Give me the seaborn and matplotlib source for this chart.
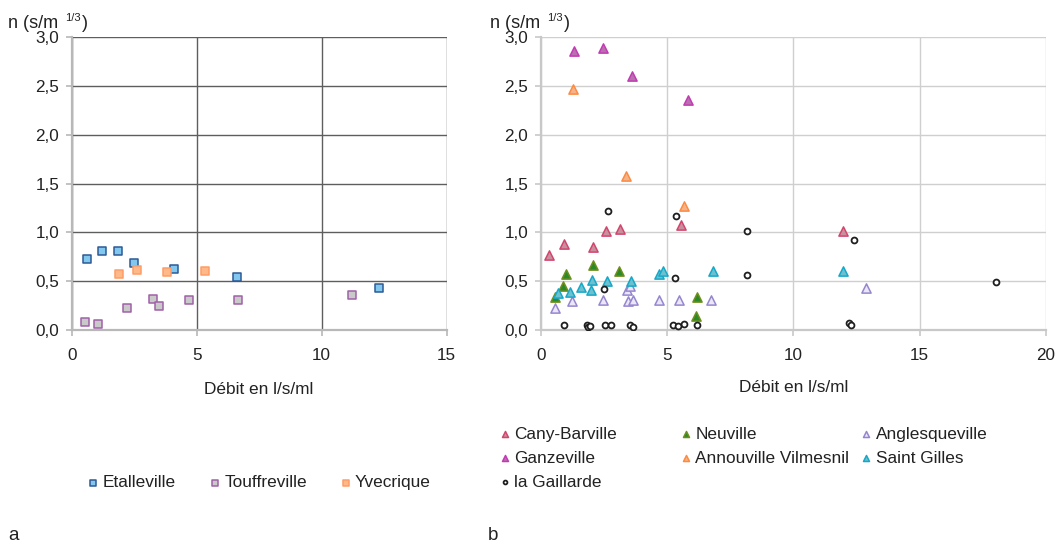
import matplotlib
matplotlib.use("Agg")
import matplotlib.pyplot as plt
import seaborn as sns

# ---------------- data ----------------
# panel a
etal_x = [0.6, 1.22, 1.85, 2.48, 4.09, 6.62, 12.29]
etal_y = [0.73, 0.81, 0.81, 0.69, 0.62, 0.54, 0.43]
touf_x = [0.52, 1.04, 2.2, 3.25, 3.49, 4.7, 6.64, 11.2]
touf_y = [0.085, 0.064, 0.23, 0.32, 0.25, 0.31, 0.31, 0.36]
yvec_x = [1.89, 2.6, 3.8, 5.33]
yvec_y = [0.57, 0.61, 0.59, 0.60]

# panel b
cany_x = [0.33, 0.91, 2.08, 2.59, 3.13, 5.56, 11.96]
cany_y = [0.77, 0.88, 0.85, 1.01, 1.03, 1.08, 1.01]
ganz_x = [1.30, 2.47, 3.62, 5.83]
ganz_y = [2.86, 2.89, 2.60, 2.35]
gaill_x = [0.93, 1.82, 1.88, 1.95, 2.50, 2.54, 2.65, 2.80, 3.55, 3.66, 5.24,
           5.32, 5.36, 5.45, 5.66, 6.17, 8.18, 8.18, 12.19, 12.28, 12.42, 18.04]
gaill_y = [0.05, 0.05, 0.035, 0.04, 0.42, 0.05, 1.22, 0.05, 0.05, 0.035, 0.05,
           0.53, 1.17, 0.04, 0.06, 0.05, 1.01, 0.56, 0.075, 0.05, 0.92, 0.49]
neuv_x = [0.58, 0.87, 1.01, 2.07, 3.11, 6.13, 6.17]
neuv_y = [0.34, 0.45, 0.57, 0.67, 0.60, 0.14, 0.34]
annou_x = [1.26, 3.38, 5.68]
annou_y = [2.47, 1.58, 1.27]
angl_x = [0.57, 1.25, 2.47, 3.40, 3.46, 3.52, 3.66, 4.69, 5.49, 6.76, 12.86]
angl_y = [0.23, 0.30, 0.31, 0.41, 0.30, 0.45, 0.31, 0.31, 0.31, 0.31, 0.43]
stg_x = [0.67, 1.16, 1.60, 1.98, 2.02, 2.61, 3.57, 4.69, 4.86, 6.80, 11.98]
stg_y = [0.38, 0.39, 0.44, 0.41, 0.51, 0.50, 0.50, 0.57, 0.60, 0.60, 0.60]

y_ticks = [0.0, 0.5, 1.0, 1.5, 2.0, 2.5, 3.0]
y_ticklabels = ["0,0", "0,5", "1,0", "1,5", "2,0", "2,5", "3,0"]
xa_ticks = [0, 5, 10, 15]
xb_ticks = [0, 5, 10, 15, 20]
x_label = "Débit en l/s/ml"

# ---------------- style ----------------
sns.set_style("white")
plt.rcParams["font.family"] = ["Liberation Sans", "DejaVu Sans"]
TXT = "#222222"

W, H = 1060, 547
fig = plt.figure(figsize=(W / 100, H / 100), dpi=100)


def px(x0, y0, x1, y1):
    return [x0 / W, 1 - y1 / H, (x1 - x0) / W, (y1 - y0) / H]


ax1 = fig.add_axes(px(71.7, 37, 446.7, 330))
ax2 = fig.add_axes(px(540.7, 37, 1046, 330))


def style_axis(ax, xticks, xmax, gridcolor, spinecolor):
    ax.set_xlim(0, xmax)
    ax.set_ylim(0, 3)
    ax.set_xticks(xticks)
    ax.set_xticklabels([str(t) for t in xticks])
    ax.set_yticks(y_ticks)
    ax.set_yticklabels(y_ticklabels)
    ax.grid(True, color=gridcolor, linewidth=1.0, zorder=0)
    ax.set_axisbelow(True)
    for s in ["top", "right"]:
        ax.spines[s].set_visible(False)
    for s in ["left", "bottom"]:
        ax.spines[s].set_color(spinecolor)
        ax.spines[s].set_linewidth(1.6)
    ax.tick_params(axis="both", direction="out", length=4, width=1.2,
                   color=spinecolor, labelsize=12.3, labelcolor=TXT,
                   left=True, bottom=True)
    ax.tick_params(axis="x", pad=9)
    ax.tick_params(axis="y", pad=5)
    ax.set_xlabel("")
    ax.set_ylabel("")


style_axis(ax1, xa_ticks, 15, "#5e5e5e", "#b8b8b8")
style_axis(ax2, xb_ticks, 20, "#cfcfcf", "#c8c8c8")

# ---------------- panel a ----------------
sq = dict(marker="s", s=36, linewidth=1.1, ax=ax1, zorder=3)
sns.scatterplot(x=etal_x, y=etal_y, color="#82c8ee", edgecolor="#2c5a96", label="Etalleville", **sq)
sns.scatterplot(x=touf_x, y=touf_y, color="#c9c9c9", edgecolor="#a060a8", label="Touffreville", **sq)
sns.scatterplot(x=yvec_x, y=yvec_y, color="#ffb888", edgecolor="#ff9c66", label="Yvecrique", **sq)
h1, l1 = ax1.get_legend_handles_labels()
if ax1.get_legend() is not None:
    ax1.get_legend().remove()

# ---------------- panel b ----------------
tri = dict(marker="^", s=44, linewidth=1.1, ax=ax2, zorder=3)
series_b = [
    ("Cany-Barville", cany_x, cany_y, "#c8909e", "#d2456e", "^"),
    ("Ganzeville", ganz_x, ganz_y, "#b870ae", "#c43ab4", "^"),
    ("la Gaillarde", gaill_x, gaill_y, "white", "#1e1e1e", "o"),
    ("Neuville", neuv_x, neuv_y, "#2a8a2a", "#6f8f1c", "^"),
    ("Annouville Vilmesnil", annou_x, annou_y, "#f4b48a", "#ff8a40", "^"),
    ("Anglesqueville", angl_x, angl_y, "#ebe7f6", "#9686d0", "^"),
    ("Saint Gilles", stg_x, stg_y, "#6cc0d0", "#17a8c8", "^"),
]
hb = {}
for name, xs, ys, fc, ec, mk in series_b:
    if mk == "o":
        sns.scatterplot(x=xs, y=ys, color=fc, edgecolor=ec, marker="o", s=18,
                        linewidth=1.3, ax=ax2, zorder=4, label=name)
    else:
        sns.scatterplot(x=xs, y=ys, color=fc, edgecolor=ec, label=name, **tri)
handles2, labels2 = ax2.get_legend_handles_labels()
for h, l in zip(handles2, labels2):
    hb[l] = h
if ax2.get_legend() is not None:
    ax2.get_legend().remove()

# ---------------- texts ----------------
for x0 in (8, 490):
    fig.text(x0 / W, 1 - 28 / H, "n (s/m", fontsize=13, color=TXT, ha="left", va="baseline")
    fig.text((x0 + 57) / W, 1 - 21 / H, "1/3", fontsize=8, color=TXT, ha="left", va="baseline")
    fig.text((x0 + 74) / W, 1 - 28 / H, ")", fontsize=13, color=TXT, ha="left", va="baseline")

fig.text(259 / W, 1 - 390 / H, x_label, fontsize=12.4, color=TXT, ha="center", va="center")
fig.text(793.3 / W, 1 - 388 / H, x_label, fontsize=12.4, color=TXT, ha="center", va="center")

fig.text(8 / W, 1 - 536 / H, "a", fontsize=13.5, color=TXT, ha="left", va="center")
fig.text(488 / W, 1 - 536 / H, "b", fontsize=13.5, color=TXT, ha="left", va="center")

# ---------------- legends ----------------
leg_kw = dict(frameon=False, fontsize=12.4, markerscale=0.65, handlelength=0.5,
              handletextpad=0.3, borderpad=0, borderaxespad=0, labelcolor=TXT)
fig.legend(h1, l1, loc="center", bbox_to_anchor=(260 / W, 1 - 482.7 / H), ncol=3,
           columnspacing=2.0, **leg_kw)

cols = [
    (500.5, ["Cany-Barville", "Ganzeville", "la Gaillarde"]),
    (681.5, ["Neuville", "Annouville Vilmesnil"]),
    (862.0, ["Anglesqueville", "Saint Gilles"]),
]
for xl, names in cols:
    fig.legend([hb[n] for n in names], names, loc="upper left",
               bbox_to_anchor=(xl / W, 1 - 426.5 / H), labelspacing=0.53, **leg_kw)

fig.savefig("out.png", dpi=100)
